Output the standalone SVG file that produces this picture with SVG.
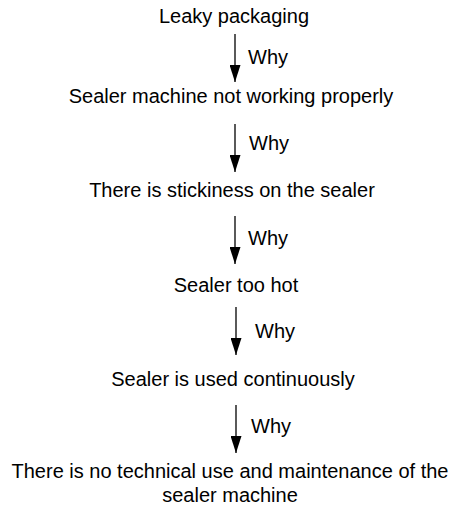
<svg xmlns="http://www.w3.org/2000/svg" width="462" height="506" viewBox="0 0 462 506">
<style>
  text { font-family: "Liberation Sans", Arial, sans-serif; font-size: 20px; fill: #000; }
  .node { text-anchor: middle; }
  .lbl { text-anchor: start; }
  .edge { stroke: #000; stroke-width: 1.3; fill: none; marker-end: url(#ah); }
</style>
<defs>
  <marker id="ah" markerWidth="17" markerHeight="11" refX="17" refY="5.5" orient="auto" markerUnits="userSpaceOnUse" viewBox="0 0 17 11">
    <path d="M0,0 L17,5.5 L0,11 Z" fill="#000"/>
  </marker>
</defs>
<rect width="462" height="506" fill="#fff"/>
<g id="connectors">
  <g id="e1"><line class="edge" x1="235" y1="34" x2="235" y2="82"/><text class="lbl" x="248" y="64">Why</text></g>
  <g id="e2"><line class="edge" x1="235" y1="124" x2="235" y2="172"/><text class="lbl" x="249" y="150">Why</text></g>
  <g id="e3"><line class="edge" x1="235" y1="216" x2="235" y2="264"/><text class="lbl" x="248" y="245">Why</text></g>
  <g id="e4"><line class="edge" x1="236" y1="307" x2="236" y2="355"/><text class="lbl" x="255" y="338">Why</text></g>
  <g id="e5"><line class="edge" x1="236" y1="405" x2="236" y2="453"/><text class="lbl" x="251" y="433">Why</text></g>
</g>
<g id="n1"><text class="node" x="234" y="23">Leaky packaging</text></g>
<g id="n2"><text class="node" x="231" y="103">Sealer machine not working properly</text></g>
<g id="n3"><text class="node" x="232" y="197">There is stickiness on the sealer</text></g>
<g id="n4"><text class="node" x="236" y="292">Sealer too hot</text></g>
<g id="n5"><text class="node" x="233" y="386">Sealer is used continuously</text></g>
<g id="n6"><text class="node" x="230" y="478">There is no technical use and maintenance of the</text><text class="node" x="230" y="502">sealer machine</text></g>
</svg>
